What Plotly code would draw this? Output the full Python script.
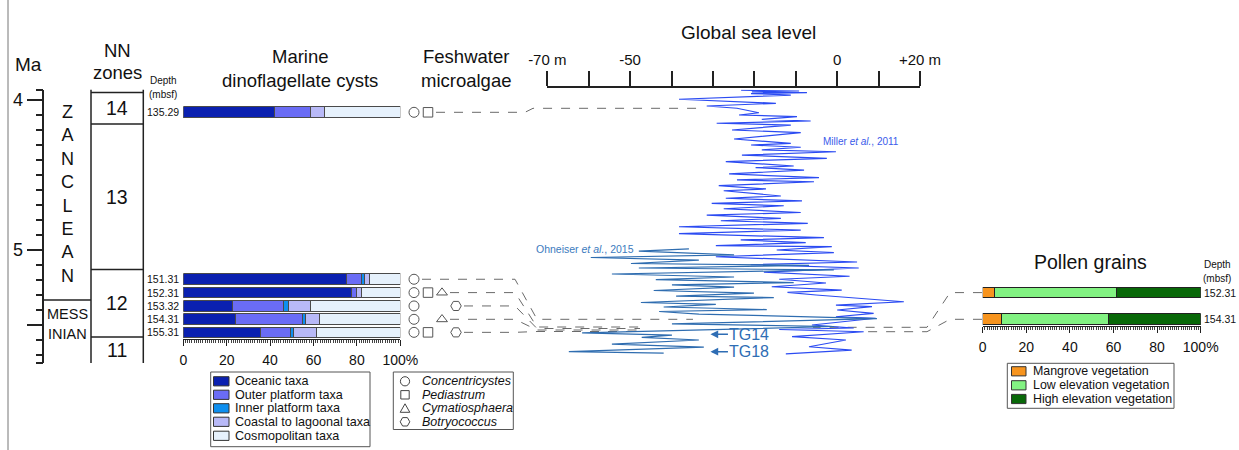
import plotly.graph_objects as go

W, H = 1239, 450

# ---------------- data ----------------
sample_depths = ["135.29", "151.31", "152.31", "153.32", "154.31", "155.31"]
sample_age_ma = [4.082, 5.195, 5.284, 5.373, 5.462, 5.549]

dino_groups = ["Oceanic taxa", "Outer platform taxa", "Inner platform taxa",
               "Coastal to lagoonal taxa", "Cosmopolitan taxa"]
dino_oceanic = [41.8, 75.4, 77.6, 22.6, 24.0, 35.6]
dino_outer_platform = [16.6, 6.5, 2.3, 23.5, 31.0, 13.7]
dino_inner_platform = [0.0, 1.5, 0.0, 2.6, 1.2, 1.7]
dino_coastal_lagoonal = [6.6, 2.5, 2.1, 10.0, 6.6, 10.6]
dino_cosmopolitan = [35.0, 14.1, 18.0, 41.3, 37.2, 38.4]
dino_colors = ["#0A20B0", "#6A6CF5", "#0E8FEF", "#B8B9F7", "#E6F1FC"]

fw_taxa = ["Concentricystes", "Pediastrum", "Cymatiosphaera", "Botryococcus"]
fw_concentricystes = [1, 1, 1, 1, 1, 1]
fw_pediastrum = [1, 0, 1, 0, 0, 1]
fw_cymatiosphaera = [0, 0, 1, 0, 1, 0]
fw_botryococcus = [0, 0, 0, 1, 0, 1]

pollen_depths = ["152.31", "154.31"]
pollen_age_ma = [5.284, 5.462]
pollen_groups = ["Mangrove vegetation", "Low elevation vegetation", "High elevation vegetation"]
pollen_mangrove = [5.5, 8.4]
pollen_low_elevation = [55.7, 49.2]
pollen_high_elevation = [38.8, 42.4]
pollen_colors = ["#F7941E", "#82F282", "#086808"]

miller_age_ma = [3.935, 3.940, 3.946, 3.951, 3.957, 3.967, 3.995, 4.022, 4.040, 4.055,
                 4.085, 4.100, 4.111, 4.129, 4.140, 4.155, 4.167, 4.200, 4.218, 4.260,
                 4.289, 4.300, 4.315, 4.333, 4.345, 4.367, 4.389, 4.411, 4.440, 4.451,
                 4.467, 4.493, 4.518, 4.533, 4.545, 4.571, 4.593, 4.605, 4.640, 4.655,
                 4.673, 4.689, 4.705, 4.725, 4.750, 4.767, 4.789, 4.805, 4.822, 4.845,
                 4.867, 4.891, 4.918, 4.933, 4.951, 4.971, 4.978, 5.000, 5.017, 5.045,
                 5.080, 5.097, 5.120, 5.147, 5.175, 5.195, 5.220, 5.245, 5.267, 5.283,
                 5.300, 5.345, 5.367, 5.378, 5.400, 5.422, 5.445, 5.455, 5.500, 5.520,
                 5.530, 5.545, 5.578, 5.600, 5.645, 5.667, 5.693]
miller_sea_level_m = [-23.2, -9.2, -20.6, -7.3, -20.8, -11.2, -38.2, -14.8, -31.5, -24.2,
                      -18.9, -23.7, -9.7, -18.2, -6.4, -29.1, -11.2, -25.4, -8.8, -24.9,
                      -11.2, -20.8, -8.8, -18.2, -0.3, -23.0, -2.5, -26.9, -10.5, -19.7,
                      -8.0, -26.1, -4.4, -24.2, -5.6, -28.6, -17.2, -27.4, -13.6, -26.9,
                      -8.5, -30.3, -12.9, -27.4, -8.8, -31.5, -13.6, -28.1, -7.1, -38.2,
                      -8.8, -38.2, -3.2, -23.3, -7.6, -29.3, -1.3, -14.6, -0.8, -29.3,
                      4.8, -20.9, 5.2, -17.7, 3.0, -14.0, -2.7, -15.8, 1.1, -12.0,
                      -5.1, 16.1, -0.3, 8.4, 0.0, 8.8, -0.3, 9.3, -6.1, 4.0,
                      -14.0, 6.4, -10.9, 2.1, -6.8, 3.5, -12.4]

ohneiser_age_ma = [4.993, 5.008, 5.033, 5.050, 5.067, 5.090, 5.103, 5.120, 5.133, 5.160,
                   5.180, 5.197, 5.217, 5.233, 5.247, 5.270, 5.287, 5.307, 5.317, 5.350,
                   5.363, 5.380, 5.397, 5.410, 5.427, 5.457, 5.493, 5.510, 5.553, 5.567,
                   5.583, 5.600, 5.627, 5.647, 5.677, 5.687]
ohneiser_sea_level_m = [-35.8, -47.9, -24.9, -59.5, -33.4, -49.8, -6.8, -47.9, -0.8, -54.4,
                        -24.9, -43.8, -10.5, -39.9, -24.9, -44.3, -20.1, -38.9, -15.3, -47.4,
                        -29.3, -41.9, -17.0, -43.0, -33.4, 9.6, -39.9, -0.8, -61.6, -39.9,
                        -47.2, -33.4, -54.4, -32.2, -64.8, -41.9]

tg_labels = ["TG14", "TG18"]
tg_age_ma = [5.562, 5.678]
tg_sea_level_m = [-30.6, -30.6]

nn_zone_names = ["14", "13", "12", "11"]
nn_zone_top_ma = [3.95, 4.16, 5.13, 5.58]
nn_zone_base_ma = [4.16, 5.13, 5.58, 5.7533]
zanclean_messinian_ma = 5.333

ma_major_ticks = [4, 5, 5.5]
ma_major_text = ["4", "5", ""]
ma_minor_ticks = [3.93, 4.1, 4.2, 4.3, 4.4, 4.5, 4.6, 4.7, 4.8, 4.9,
                  5.1, 5.2, 5.3, 5.4, 5.6, 5.7, 5.75]
sea_level_ticks = [-70, -60, -50, -40, -30, -20, -10, 0, 10, 20]
sea_level_ticktext = ["-70 m", "", "-50", "", "", "", "", "0", "", "+20 m"]
pct_ticks = [0, 10, 20, 30, 40, 50, 60, 70, 80, 90, 100]
pct_ticktext = ["0", "", "20", "", "40", "", "60", "", "80", "", "100%"]
pct_minor = list(range(0, 101))

# ---------------- helpers ----------------
FONT = "Liberation Sans, Arial, Helvetica, sans-serif"
TXT = "#111111"
AGE_TOP, AGE_BOT = 3.93, 5.7533
Y_TOP_PX, Y_BOT_PX = 89.5, 363.0


def fx(px):
    return px / W


def fy(py):
    return 1 - py / H


def age_at(py):
    return AGE_TOP + (py - Y_TOP_PX) / (Y_BOT_PX - Y_TOP_PX) * (AGE_BOT - AGE_TOP)


fig = go.Figure()

# dinoflagellate cyst stacked bars
dino_values = [dino_oceanic, dino_outer_platform, dino_inner_platform,
               dino_coastal_lagoonal, dino_cosmopolitan]
for name, vals, col in zip(dino_groups, dino_values, dino_colors):
    fig.add_trace(go.Bar(y=sample_age_ma, x=vals, orientation="h", name=name,
                         width=0.071, xaxis="x", yaxis="y",
                         marker=dict(color=col, line=dict(color="#4a4a4a", width=1))))

# pollen stacked bars
pollen_values = [pollen_mangrove, pollen_low_elevation, pollen_high_elevation]
for name, vals, col in zip(pollen_groups, pollen_values, pollen_colors):
    fig.add_trace(go.Bar(y=pollen_age_ma, x=vals, orientation="h", name=name,
                         width=0.071, xaxis="x3", yaxis="y",
                         marker=dict(color=col, line=dict(color="#222222", width=1))))

# freshwater microalgae presence symbols
fw_presence = [fw_concentricystes, fw_pediastrum, fw_cymatiosphaera, fw_botryococcus]
fw_symbols = ["circle-open", "square-open", "triangle-up-open", "hexagon2-open"]
fw_sizes = [10, 9.5, 9.5, 10.5]
for j, (taxon, pres, sym, sz) in enumerate(zip(fw_taxa, fw_presence, fw_symbols, fw_sizes)):
    ys = [a for a, p in zip(sample_age_ma, pres) if p]
    fig.add_trace(go.Scatter(x=[j + 0.5] * len(ys), y=ys, mode="markers", name=taxon,
                             xaxis="x4", yaxis="y", cliponaxis=False,
                             marker=dict(symbol=sym, size=sz, color="#555555",
                                         line=dict(width=1, color="#555555"))))

# global sea level curves
fig.add_trace(go.Scatter(x=miller_sea_level_m, y=miller_age_ma, mode="lines",
                         name="Miller et al., 2011", xaxis="x2", yaxis="y",
                         line=dict(color="#2B4BF2", width=1.2)))
fig.add_trace(go.Scatter(x=ohneiser_sea_level_m, y=ohneiser_age_ma, mode="lines",
                         name="Ohneiser et al., 2015", xaxis="x2", yaxis="y",
                         line=dict(color="#2F6DB0", width=1.2)))

# ---------------- shapes ----------------
shapes = []
LINE = "#222222"
shapes.append(dict(type="line", xref="paper", yref="paper", x0=fx(8), x1=fx(8), y0=0, y1=1,
                   line=dict(color="#777777", width=1)))
# NN zones column
for xp in (91, 143.3):
    shapes.append(dict(type="line", xref="paper", yref="y", x0=fx(xp), x1=fx(xp),
                       y0=AGE_TOP, y1=AGE_BOT, line=dict(color=LINE, width=1.5)))
for t in nn_zone_top_ma:
    shapes.append(dict(type="line", xref="paper", yref="y", x0=fx(91), x1=fx(143.3),
                       y0=t, y1=t, line=dict(color=LINE, width=1.5)))
# stage boundary
shapes.append(dict(type="line", xref="paper", yref="y", x0=fx(44), x1=fx(91),
                   y0=zanclean_messinian_ma, y1=zanclean_messinian_ma,
                   line=dict(color=LINE, width=1.5)))


def mixed_path(pts):
    return "M " + " L ".join(f"{fx(x):.5f},{a:.5f}" for x, a in pts)


def paper_path(pts, close=True):
    s = "M " + " L ".join(f"{fx(x):.5f},{fy(y):.5f}" for x, y in pts)
    return s + (" Z" if close else "")


DASH = dict(color="#6a6a6a", width=1, dash="dash")
col_px = [414, 428, 442, 456]
# connectors from microalgae rows to the sea-level curve
join_px = [108.3, 319.3, 327.0, 328.5, 330.0, 331.5]
end_px = [703, 693, 640, 640, 640, 640]
for i, a in enumerate(sample_age_ma):
    last = max(j for j in range(4) if fw_presence[j][i])
    start = col_px[last] + 8
    if i == 0:
        pts = [(start, a), (525, a), (533, age_at(join_px[i])), (end_px[i], age_at(join_px[i]))]
    else:
        pts = [(start, a), (515, a), (537, age_at(join_px[i])), (end_px[i], age_at(join_px[i]))]
    shapes.append(dict(type="path", xref="paper", yref="y", path=mixed_path(pts),
                       line=DASH, layer="below"))
# connectors from pollen rows
pollen_join_px = [327.3, 331.7]
pollen_end_px = [813, 860]
for i, a in enumerate(pollen_age_ma):
    pts = [(982, a), (950, a), (927, age_at(pollen_join_px[i])),
           (pollen_end_px[i], age_at(pollen_join_px[i]))]
    shapes.append(dict(type="path", xref="paper", yref="y", path=mixed_path(pts),
                       line=DASH, layer="below"))

# legend boxes
BOX = dict(color="#555555", width=1)
shapes.append(dict(type="rect", xref="paper", yref="paper", x0=fx(210.7), x1=fx(370),
                   y0=fy(372), y1=fy(446.7), line=BOX))
shapes.append(dict(type="rect", xref="paper", yref="paper", x0=fx(393.3), x1=fx(513.3),
                   y0=fy(372), y1=fy(429.5), line=BOX))
shapes.append(dict(type="rect", xref="paper", yref="paper", x0=fx(1007.3), x1=fx(1174),
                   y0=fy(363.3), y1=fy(408.3), line=BOX))

ann = []


def text(t, x, y, size, xanchor="center", yanchor="middle", color=TXT, yref="paper"):
    ann.append(dict(text=t, x=fx(x), y=(fy(y) if yref == "paper" else y), xref="paper",
                    yref=yref, showarrow=False, xanchor=xanchor, yanchor=yanchor,
                    font=dict(size=size, color=color, family=FONT)))


dino_rows = [381.3, 394.8, 408.3, 421.8, 435.8]
for name, col, ry in zip(dino_groups, dino_colors, dino_rows):
    shapes.append(dict(type="rect", xref="paper", yref="paper", x0=fx(213.5), x1=fx(229),
                       y0=fy(ry - 4.6), y1=fy(ry + 4.6), fillcolor=col,
                       line=dict(color="#333333", width=1)))
    text(name, 232.5, ry, 12.6, xanchor="left")

pollen_rows = [371.3, 385.3, 399.0]
for name, col, ry in zip(pollen_groups, pollen_colors, pollen_rows):
    shapes.append(dict(type="rect", xref="paper", yref="paper", x0=fx(1011.5), x1=fx(1026),
                       y0=fy(ry - 4.6), y1=fy(ry + 4.6), fillcolor=col,
                       line=dict(color="#333333", width=1)))
    text(name, 1030.5, ry, 12.4, xanchor="left")

fw_rows = [381.3, 394.8, 408.3, 421.8]
SYM = dict(color="#444444", width=1)
cx = 405
r0 = fw_rows[0]
shapes.append(dict(type="circle", xref="paper", yref="paper", x0=fx(cx - 4.6), x1=fx(cx + 4.6),
                   y0=fy(r0 - 4.6), y1=fy(r0 + 4.6), line=SYM))
r1 = fw_rows[1]
shapes.append(dict(type="rect", xref="paper", yref="paper", x0=fx(cx - 4.2), x1=fx(cx + 4.2),
                   y0=fy(r1 - 4.2), y1=fy(r1 + 4.2), line=SYM))
r2 = fw_rows[2]
shapes.append(dict(type="path", xref="paper", yref="paper", line=SYM,
                   path=paper_path([(cx - 4.8, r2 + 4), (cx + 4.8, r2 + 4), (cx, r2 - 4.5)])))
r3 = fw_rows[3]
shapes.append(dict(type="path", xref="paper", yref="paper", line=SYM,
                   path=paper_path([(cx + 4.8, r3), (cx + 2.4, r3 - 4.2), (cx - 2.4, r3 - 4.2),
                                    (cx - 4.8, r3), (cx - 2.4, r3 + 4.2), (cx + 2.4, r3 + 4.2)])))
for name, ry in zip(fw_taxa, fw_rows):
    text(f"<i>{name}</i>", 419.5, ry, 12.5, xanchor="left")

# ---------------- text ----------------
text("Ma", 28, 64, 19)
text("NN", 117, 50, 18.5)
text("zones", 117, 72, 18.5)
text("Depth", 163, 81, 10)
text("(mbsf)", 163, 94, 10)
text("Marine", 300, 56, 18.5)
text("dinoflagellate cysts", 300, 80, 18.5)
text("Feshwater", 466, 56, 18.5)
text("microalgae", 466, 80, 18.5)
text("Global sea level", 748, 32, 19)
text("Pollen grains", 1090, 262, 19.5)
text("Depth", 1217, 264, 10)
text("(mbsf)", 1217, 278, 10)

for d, a in zip(sample_depths, sample_age_ma):
    text(d, 180.5, a, 10.5, xanchor="right", yref="y")
for d, a in zip(pollen_depths, pollen_age_ma):
    text(d, 1202, a, 10.5, xanchor="left", yref="y")

for name, t, b in zip(nn_zone_names, nn_zone_top_ma, nn_zone_base_ma):
    text(name, 117, (t + b) / 2, 19.5, yref="y")

text("<br>".join("ZANCLEAN"), 67, (4.087 + 5.17) / 2, 18, yref="y")
text("MESS", 67.5, age_at(314), 14.5, yref="y")
text("INIAN", 67.5, age_at(334), 14.5, yref="y")

text("Miller <i>et al.</i>, 2011", 861, 141.3, 10, color="#3A5BEA")
text("Ohneiser <i>et al.</i>, 2015", 585, 249, 10.5, color="#3C7BBE")

for lab, a, sl in zip(tg_labels, tg_age_ma, tg_sea_level_m):
    ann.append(dict(text=lab, x=sl, y=a, xref="x2", yref="y", showarrow=True,
                    ax=39, ay=0, arrowhead=2, arrowsize=1.1, arrowwidth=1.4,
                    arrowcolor="#2E6DB4", standoff=0,
                    font=dict(size=16, color="#2E6DB4", family=FONT)))

# ---------------- layout ----------------
pct_axis = dict(range=[0, 100], anchor="free", showline=True, linecolor=LINE, linewidth=1,
                ticks="outside", tickvals=pct_ticks, ticktext=pct_ticktext, ticklen=6,
                tickwidth=1, tickcolor=LINE, ticklabelstandoff=3, automargin=False,
                minor=dict(tickvals=pct_minor, ticks="outside", ticklen=3, tickwidth=0.8,
                           tickcolor="#444444"),
                tickfont=dict(size=14, color=TXT, family=FONT),
                showgrid=False, zeroline=False, fixedrange=True)

fig.update_layout(
    width=W, height=H, margin=dict(l=0, r=0, t=0, b=0, pad=0), autosize=False,
    paper_bgcolor="white", plot_bgcolor="rgba(0,0,0,0)",
    showlegend=False, barmode="stack",
    font=dict(family=FONT, color=TXT),
    xaxis=dict(domain=[fx(183.3), fx(400.3)], position=fy(338.5), **pct_axis),
    xaxis3=dict(domain=[fx(982.7), fx(1200.7)], position=fy(325.5), **pct_axis),
    xaxis2=dict(domain=[fx(547.3), fx(920)], range=[-70, 20], anchor="free",
                position=fy(86.7), side="top", showline=True, linecolor=LINE, linewidth=1.5,
                ticks="outside", tickvals=sea_level_ticks, ticktext=sea_level_ticktext,
                ticklen=15, tickwidth=1.5, tickcolor=LINE, automargin=False,
                tickfont=dict(size=15, color=TXT, family=FONT),
                showgrid=False, zeroline=False, fixedrange=True),
    xaxis4=dict(domain=[fx(407), fx(463)], range=[0, 4], visible=False, anchor="y",
                automargin=False, fixedrange=True),
    yaxis=dict(domain=[fy(Y_BOT_PX), fy(Y_TOP_PX)], range=[AGE_BOT, AGE_TOP],
               anchor="free", position=fx(43.3), side="left", showline=True,
               linecolor=LINE, linewidth=1.5, ticks="outside", tickvals=ma_major_ticks,
               ticktext=ma_major_text, ticklen=16, tickwidth=1.5, tickcolor=LINE,
               automargin=False,
               minor=dict(tickvals=ma_minor_ticks, ticks="outside", ticklen=7,
                          tickwidth=1.5, tickcolor=LINE),
               tickfont=dict(size=18, color=TXT, family=FONT),
               showgrid=False, zeroline=False, fixedrange=True),
    shapes=shapes, annotations=ann,
)

fig.write_html("out.html", config={"displayModeBar": False},
               post_script="document.body.style.margin='0';document.body.style.overflow='hidden';")
